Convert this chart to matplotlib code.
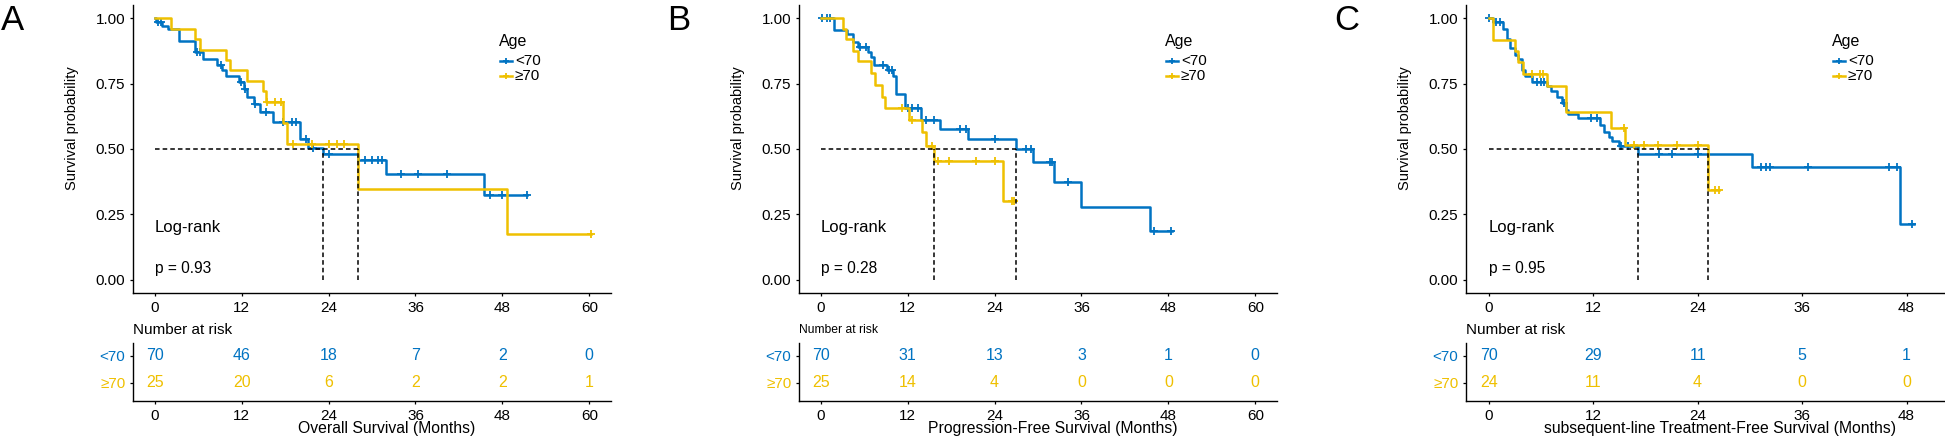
import matplotlib
matplotlib.use("Agg")
import matplotlib.pyplot as plt
import numpy as np

plt.rcParams["font.family"] = ["Liberation Sans", "DejaVu Sans"]

BLUE = "#0073C2"
YELLOW = "#EFC000"

# ---- A: overall survival ----
os_lt70_t = [0, 0.2, 1.0, 1.8, 3.3, 5.5, 6.6, 8.6, 9.3, 9.8, 11.7, 12.3, 12.7, 13.7, 14.6, 16.3, 20.0, 21.1, 23.3, 28.0, 32.0, 45.4]
os_lt70_s = [1.0, 0.986, 0.971, 0.957, 0.914, 0.871, 0.843, 0.82, 0.80, 0.78, 0.757, 0.73, 0.70, 0.67, 0.643, 0.604, 0.537, 0.505, 0.48, 0.458, 0.405, 0.325]
os_lt70_end = 51.4
os_lt70_cens = [0.5, 0.9, 5.9, 6.3, 9.1, 11.9, 12.5, 13.9, 15.4, 17.7, 18.9, 19.5, 20.9, 21.8, 24.0, 29.1, 30.0, 30.8, 31.4, 34.0, 36.3, 40.3, 46.3, 48.0, 51.4]

os_ge70_t = [0, 2.2, 5.6, 6.2, 9.9, 10.4, 12.7, 14.9, 15.3, 17.7, 18.2, 28.0, 48.7]
os_ge70_s = [1.0, 0.96, 0.92, 0.88, 0.84, 0.80, 0.76, 0.72, 0.68, 0.60, 0.52, 0.347, 0.174]
os_ge70_end = 60.3
os_ge70_cens = [15.5, 16.6, 17.4, 19.1, 21.7, 24.0, 25.1, 26.2, 60.3]

os_risk_lt70 = [70, 46, 18, 7, 2, 0]
os_risk_ge70 = [25, 20, 6, 2, 2, 1]

# ---- B: progression-free survival ----
pfs_lt70_t = [0, 1.8, 3.6, 4.5, 5.1, 6.5, 7.0, 7.4, 9.1, 10.0, 10.4, 11.7, 13.9, 16.4, 20.3, 27.0, 29.3, 32.2, 36.0, 45.4]
pfs_lt70_s = [1.0, 0.955, 0.94, 0.91, 0.89, 0.87, 0.85, 0.82, 0.80, 0.78, 0.71, 0.655, 0.61, 0.577, 0.54, 0.50, 0.45, 0.375, 0.28, 0.185]
pfs_lt70_end = 48.5
pfs_lt70_cens = [0.2, 0.8, 1.3, 5.4, 6.2, 8.6, 9.4, 9.9, 12.0, 12.6, 13.4, 14.6, 15.7, 19.2, 20.0, 24.0, 28.4, 29.0, 31.6, 32.0, 34.2, 46.0, 48.3]

pfs_ge70_t = [0, 3.05, 3.5, 4.5, 5.2, 7.0, 7.55, 8.5, 8.9, 12.2, 14.0, 14.6, 15.6, 25.1]
pfs_ge70_s = [1.0, 0.96, 0.92, 0.875, 0.835, 0.79, 0.745, 0.70, 0.655, 0.61, 0.565, 0.51, 0.455, 0.303]
pfs_ge70_end = 26.7
pfs_ge70_cens = [11.2, 12.6, 15.4, 16.2, 17.75, 21.5, 24.1, 26.4, 26.7]

pfs_risk_lt70 = [70, 31, 13, 3, 1, 0]
pfs_risk_ge70 = [25, 14, 4, 0, 0, 0]

# ---- C: subsequent-line treatment-free survival ----
tfs_lt70_t = [0, 0.5, 1.7, 2.1, 2.5, 3.0, 3.4, 3.8, 4.2, 5.0, 6.7, 7.2, 7.9, 8.4, 8.9, 9.1, 10.3, 12.8, 13.3, 13.8, 14.2, 15.0, 17.1, 30.3, 47.2]
tfs_lt70_s = [1.0, 0.985, 0.96, 0.92, 0.885, 0.86, 0.845, 0.80, 0.78, 0.755, 0.74, 0.72, 0.70, 0.675, 0.65, 0.635, 0.62, 0.59, 0.565, 0.545, 0.53, 0.51, 0.48, 0.43, 0.215]
tfs_lt70_end = 48.8
tfs_lt70_cens = [0.0, 0.8, 1.3, 5.5, 6.0, 6.4, 8.6, 11.8, 12.5, 15.2, 16.0, 19.6, 21.1, 24.0, 31.3, 31.8, 32.3, 36.7, 46.0, 46.9, 48.6]

tfs_ge70_t = [0, 0.5, 3.0, 3.4, 3.9, 6.7, 8.9, 14.1, 15.7, 25.2]
tfs_ge70_s = [1.0, 0.917, 0.875, 0.833, 0.785, 0.74, 0.64, 0.58, 0.515, 0.345]
tfs_ge70_end = 26.5
tfs_ge70_cens = [5.0, 5.9, 6.3, 15.5, 16.7, 17.9, 19.4, 21.6, 24.0, 26.0, 26.5]

tfs_risk_lt70 = [70, 29, 11, 5, 1]
tfs_risk_ge70 = [24, 11, 4, 0, 0]

ticks_60 = [0, 12, 24, 36, 48, 60]
ticks_48 = [0, 12, 24, 36, 48]

panels = [
    dict(letter="A", left=133, xlim=(-3, 63), ticks=ticks_60, p="p = 0.93",
         xlabel="Overall Survival (Months)", nar_size=11,
         lt70=(os_lt70_t, os_lt70_s, os_lt70_end, os_lt70_cens),
         ge70=(os_ge70_t, os_ge70_s, os_ge70_end, os_ge70_cens),
         risk=(os_risk_lt70, os_risk_ge70)),
    dict(letter="B", left=799, xlim=(-3, 63), ticks=ticks_60, p="p = 0.28",
         xlabel="Progression-Free Survival (Months)", nar_size=8.7,
         lt70=(pfs_lt70_t, pfs_lt70_s, pfs_lt70_end, pfs_lt70_cens),
         ge70=(pfs_ge70_t, pfs_ge70_s, pfs_ge70_end, pfs_ge70_cens),
         risk=(pfs_risk_lt70, pfs_risk_ge70)),
    dict(letter="C", left=1466, xlim=(-2.6, 52.3), ticks=ticks_48, p="p = 0.95",
         xlabel="subsequent-line Treatment-Free Survival (Months)", nar_size=11,
         lt70=(tfs_lt70_t, tfs_lt70_s, tfs_lt70_end, tfs_lt70_cens),
         ge70=(tfs_ge70_t, tfs_ge70_s, tfs_ge70_end, tfs_ge70_cens),
         risk=(tfs_risk_lt70, tfs_risk_ge70)),
]

W, H = 1945, 437
AX_W = 478

fig = plt.figure(figsize=(W / 100, H / 100), dpi=100)


def box(left, top, width, height):
    return [left / W, 1 - (top + height) / H, width / W, height / H]


def style_axes(ax):
    for side in ["top", "right"]:
        ax.spines[side].set_visible(False)
    for side in ["left", "bottom"]:
        ax.spines[side].set_linewidth(1.0)
    ax.tick_params(length=2.5, width=0.9, labelsize=11, pad=3)


def draw_km(ax, curve, color):
    t, s, t_end, cens = curve
    ax.step(list(t) + [t_end], list(s) + [s[-1]], where="post", color=color, lw=1.8)
    idx = np.searchsorted(t, cens, side="right") - 1
    ax.plot(cens, np.array(s)[idx], "+", color=color, ms=6, mew=1.3)


def median_time(curve):
    t, s = np.array(curve[0]), np.array(curve[1])
    return t[np.argmax(s <= 0.5)]


for pn in panels:
    left = pn["left"]
    ax = fig.add_axes(box(left, 5, AX_W, 288))
    style_axes(ax)
    ax.set_xlim(pn["xlim"])
    ax.set_ylim(-0.05, 1.05)
    ax.set_xticks(pn["ticks"])
    ax.set_yticks([0, 0.25, 0.5, 0.75, 1.0])
    ax.set_yticklabels(["0.00", "0.25", "0.50", "0.75", "1.00"])

    draw_km(ax, pn["lt70"], BLUE)
    draw_km(ax, pn["ge70"], YELLOW)

    meds = [median_time(pn["lt70"]), median_time(pn["ge70"])]
    ax.plot([0, max(meds)], [0.5, 0.5], color="black", ls=(0, (3, 2)), lw=1.1)
    for m in meds:
        ax.plot([m, m], [0, 0.5], color="black", ls=(0, (3, 2)), lw=1.1)

    ax.text(0, 0.2, "Log-rank", fontsize=12, ha="left", va="center")
    ax.text(0, 0.045, pn["p"], fontsize=11.2, ha="left", va="center")

    # legend
    ax.text(0.766, 0.872, "Age", transform=ax.transAxes, fontsize=11.5, ha="left", va="center")
    for yk, col, lab in [(0.806, BLUE, "<70"), (0.753, YELLOW, "\u226570")]:
        ax.plot([0.768, 0.792], [yk, yk], transform=ax.transAxes, color=col, lw=1.8, clip_on=False)
        ax.plot([0.780], [yk], "+", transform=ax.transAxes, color=col, ms=5, mew=1.3, clip_on=False)
        ax.text(0.799, yk, lab, transform=ax.transAxes, fontsize=11, ha="left", va="center")

    fig.text((left - 61) / W, 1 - 128 / H, "Survival probability", rotation=90,
             fontsize=10.5, ha="center", va="center")
    fig.text((left - 133 + 1) / W, 1 - 20 / H, pn["letter"], fontsize=25, ha="left", va="center")

    # risk table
    tax = fig.add_axes(box(left, 343, AX_W, 58))
    style_axes(tax)
    tax.set_xlim(pn["xlim"])
    tax.set_ylim(0.33, 2.48)
    tax.set_xticks(pn["ticks"])
    tax.set_yticks([2, 1])
    tax.set_yticklabels(["<70", "\u226570"])
    for lab, col in zip(tax.get_yticklabels(), [BLUE, YELLOW]):
        lab.set_color(col)
    risk_lt, risk_ge = pn["risk"]
    for tk, n1, n2 in zip(pn["ticks"], risk_lt, risk_ge):
        tax.text(tk, 2, str(n1), color=BLUE, fontsize=11.5, ha="center", va="center")
        tax.text(tk, 1, str(n2), color=YELLOW, fontsize=11.5, ha="center", va="center")

    fig.text(left / W, 1 - 330 / H, "Number at risk", fontsize=pn["nar_size"], ha="left", va="center")
    fig.text((left + AX_W / 2 + 15) / W, 1 - 428 / H, pn["xlabel"], fontsize=11.3, ha="center", va="center")

fig.savefig("out.png", dpi=100)
